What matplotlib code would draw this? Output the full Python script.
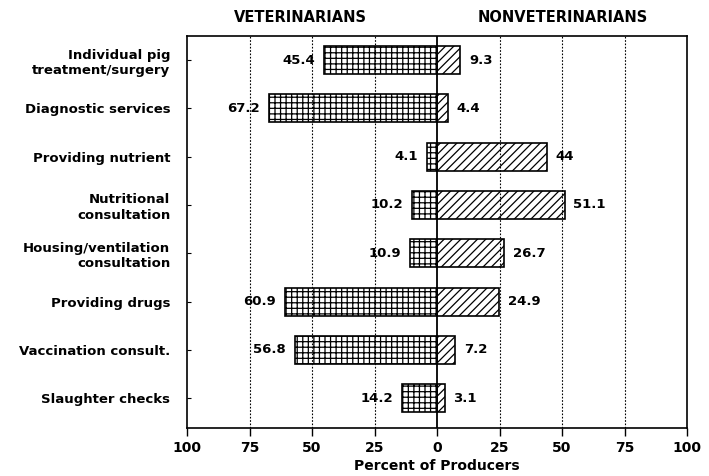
import matplotlib
matplotlib.use("Agg")
import matplotlib.pyplot as plt
import numpy as np

plt.rcParams['font.family'] = ['DejaVu Sans']
plt.rcParams['hatch.linewidth'] = 0.9

categories = ["Individual pig\ntreatment/surgery", "Diagnostic services", "Providing nutrient",
              "Nutritional\nconsultation", "Housing/ventilation\nconsultation", "Providing drugs",
              "Vaccination consult.", "Slaughter checks"]
vet = [45.4, 67.2, 4.1, 10.2, 10.9, 60.9, 56.8, 14.2]
nonvet = [9.3, 4.4, 44, 51.1, 26.7, 24.9, 7.2, 3.1]
vet_labels = ["45.4", "67.2", "4.1", "10.2", "10.9", "60.9", "56.8", "14.2"]
nonvet_labels = ["9.3", "4.4", "44", "51.1", "26.7", "24.9", "7.2", "3.1"]
xticks = [-100, -75, -50, -25, 0, 25, 50, 75, 100]
xticklabels = ["100", "75", "50", "25", "0", "25", "50", "75", "100"]

fig = plt.figure(figsize=(7.09, 4.76), dpi=100)
ax = fig.add_axes([187/709, 1 - 428/476, (687-187)/709, (428-36)/476])

y = np.arange(len(categories))
h = 0.58
ax.barh(y, [-v for v in vet], height=h, color='none', edgecolor='black', hatch='+++', linewidth=1.2, zorder=3)
ax.barh(y, nonvet, height=h, color='none', edgecolor='black', hatch='////', linewidth=1.2, zorder=3)

for yi, v, lab in zip(y, vet, vet_labels):
    ax.text(-v - 3.5, yi, lab, ha='right', va='center', fontsize=9.5, fontweight='bold', zorder=4)
for yi, v, lab in zip(y, nonvet, nonvet_labels):
    ax.text(v + 3.5, yi, lab, ha='left', va='center', fontsize=9.5, fontweight='bold', zorder=4)

for xv in [-75, -50, -25, 25, 50, 75]:
    ax.axvline(xv, color='black', linestyle=(0, (1.5, 1.5)), linewidth=0.8, zorder=1)
ax.axvline(0, color='black', linewidth=1.3, zorder=5)

ax.set_xlim(-100, 100)
ax.set_ylim(7.62, -0.5)
ax.set_xticks(xticks)
ax.set_xticklabels(xticklabels, fontsize=10, fontweight='bold')
ax.set_yticks(y)
ax.set_yticklabels(categories, fontsize=9.5, fontweight='bold', linespacing=1.25)
ax.tick_params(axis='x', direction='out', length=6, width=1, pad=3)
ax.tick_params(axis='y', direction='in', length=3, width=0.8, pad=12)
for s in ax.spines.values():
    s.set_linewidth(1.2)
ax.set_xlabel("Percent of Producers", fontsize=10, fontweight='bold', labelpad=3)

fig.text(300/709, 1 - 18/476, "VETERINARIANS", ha='center', va='center', fontsize=10.5, fontweight='bold')
fig.text(563/709, 1 - 18/476, "NONVETERINARIANS", ha='center', va='center', fontsize=10.5, fontweight='bold')

fig.savefig("out.png", dpi=100)
